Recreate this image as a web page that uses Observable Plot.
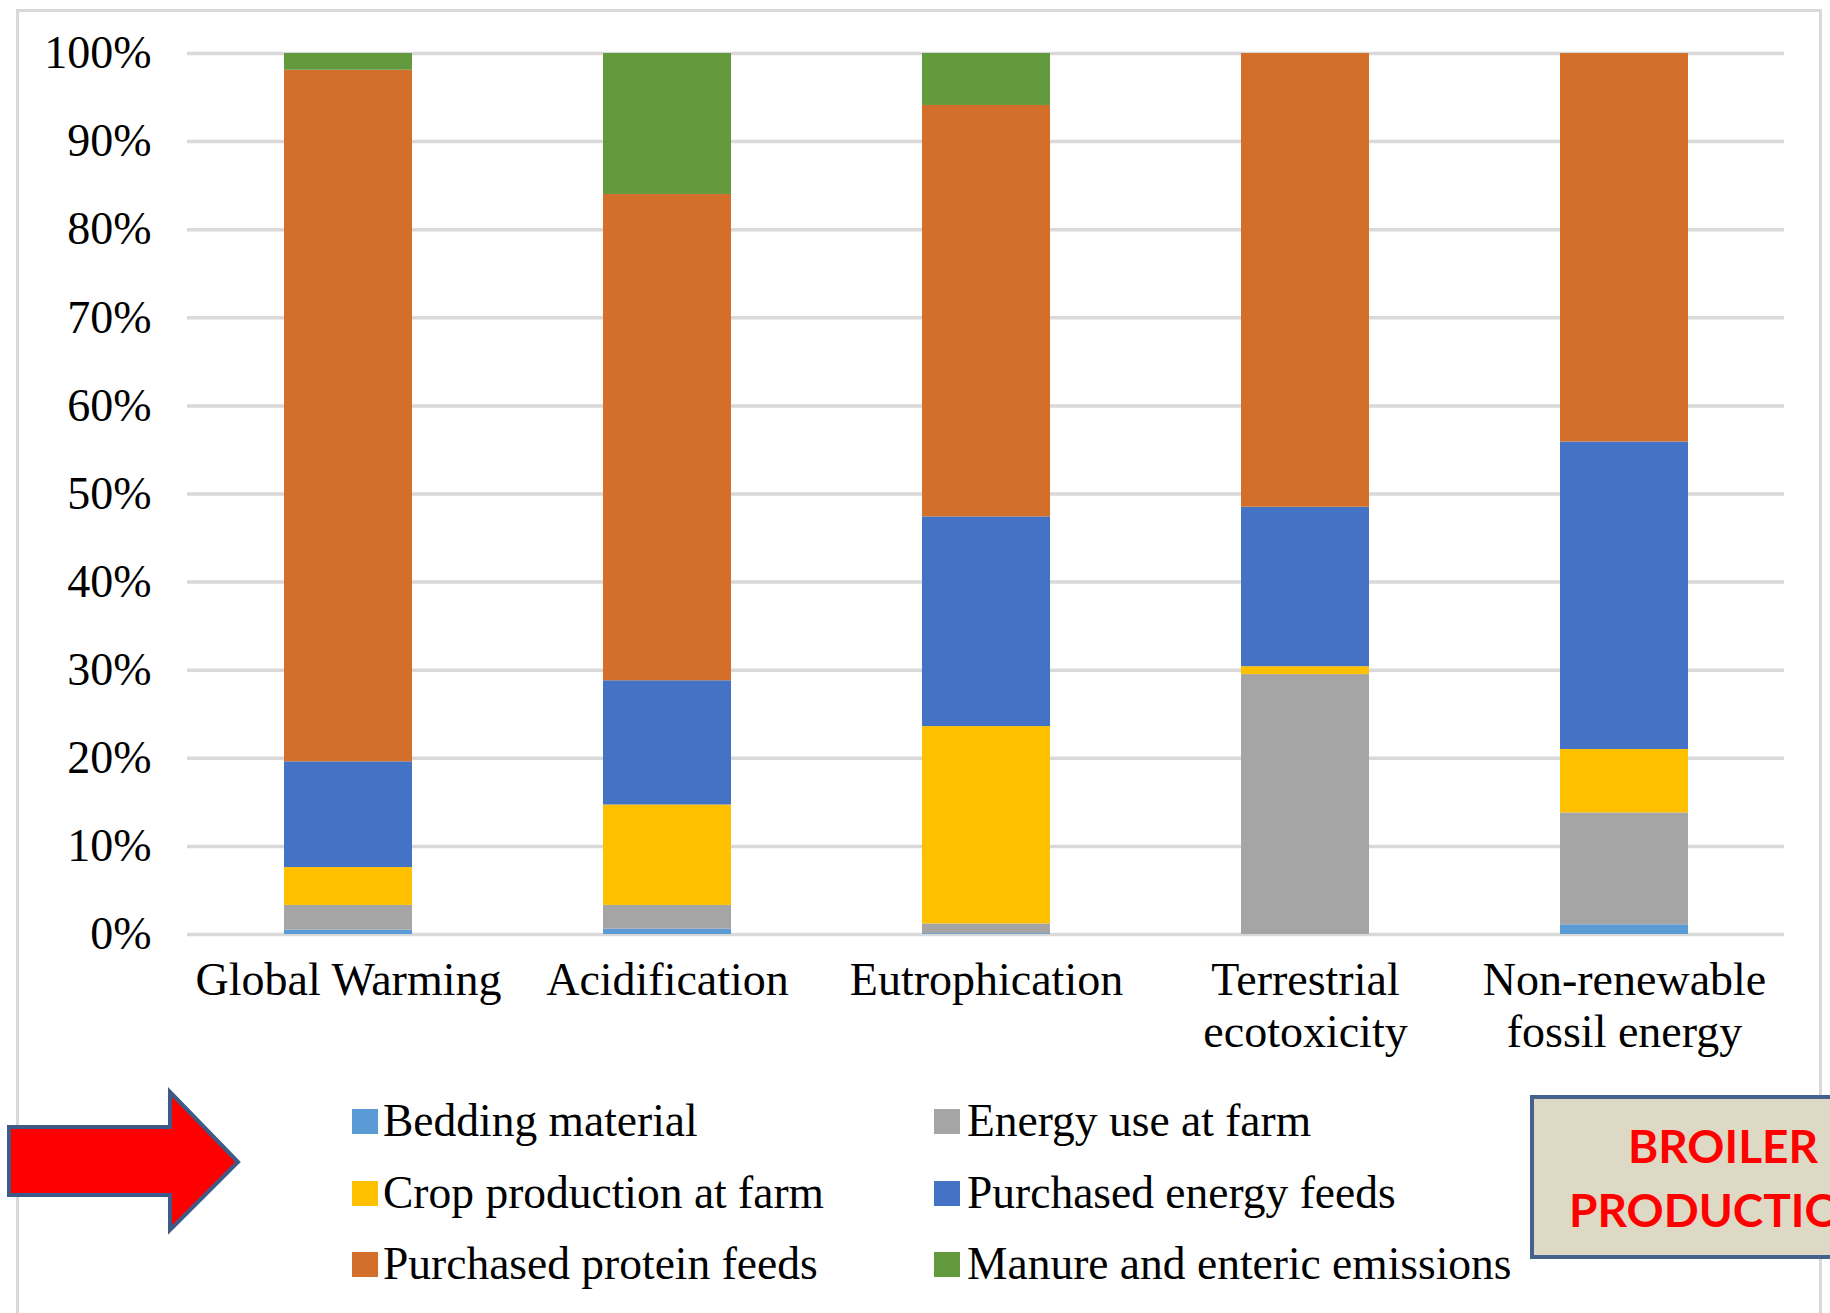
<!DOCTYPE html>
<html>
<head>
<meta charset="utf-8">
<script src="https://cdn.jsdelivr.net/npm/d3@7"></script>
<script src="https://cdn.jsdelivr.net/npm/@observablehq/plot@0.6"></script>
<style>
  html, body { margin: 0; padding: 0; background: #fff; }
  #page { position: relative; width: 1830px; height: 1313px; overflow: hidden; background: #fff; }
  #frame { position: absolute; left: 16px; top: 9px; width: 1806px; height: 1400px;
           border: 3px solid #d9d9d9; border-bottom: none; box-sizing: border-box; }
  #chart { position: absolute; left: 0; top: 0; }
  .leg { position: absolute; font-family: "Liberation Serif", "Times New Roman", serif;
         font-size: 45.5px; color: #000; white-space: nowrap; line-height: 1; }
  .sw { position: absolute; width: 26px; height: 25px; }
  #box { position: absolute; left: 1530px; top: 1095px; width: 400px; height: 164px;
         background: #ddd9c4; border: 4px solid #44628c; box-sizing: border-box; }
  .boxt { position: absolute; font-family: Lato, "Open Sans", sans-serif; font-weight: 700;
          font-size: 46px; color: #ff0000; white-space: nowrap; line-height: 1; }
</style>
</head>
<body>
<div id="page">
  <div id="frame"></div>
  <div id="chart"></div>
  <div id="legend"></div>
  <svg id="arrow" width="260" height="160" style="position:absolute;left:0;top:1082px;">
    <polygon points="9,45 170,45 170,10 238,80 170,148 170,113 9,113"
             fill="#ff0000" stroke="#3d5b86" stroke-width="4" stroke-linejoin="miter"/>
  </svg>
  <div id="box"></div>
  <div class="boxt" style="left:1723px; top:1123px; transform:translateX(-50%);">BROILER</div>
  <div class="boxt" style="left:1723px; top:1187px; transform:translateX(-50%);">PRODUCTION</div>
</div>
<script>
const categories = ["Global Warming", "Acidification", "Eutrophication", "Terrestrial ecotoxicity", "Non-renewable fossil energy"];
const tickLabels = ["Global Warming", "Acidification", "Eutrophication", "Terrestrial\necotoxicity", "Non-renewable\nfossil energy"];
const series = ["Bedding material", "Energy use at farm", "Crop production at farm", "Purchased energy feeds", "Purchased protein feeds", "Manure and enteric emissions"];
const colors = ["#5b9bd5", "#a5a5a5", "#ffc000", "#4472c4", "#d36f2b", "#649a3e"];
const beddingMaterial = [0.5, 0.6, 0.1, 0.0, 1.1];
const energyUseAtFarm = [2.8, 2.7, 1.1, 29.5, 12.7];
const cropProduction = [4.3, 11.4, 22.4, 0.9, 7.2];
const purchasedEnergyFeeds = [12.0, 14.1, 23.8, 18.1, 34.9];
const purchasedProteinFeeds = [78.5, 55.2, 46.7, 51.5, 44.1];
const manureEmissions = [1.9, 16.0, 5.9, 0.0, 0.0];
const yTicks = [0, 10, 20, 30, 40, 50, 60, 70, 80, 90, 100];

const seriesValues = [beddingMaterial, energyUseAtFarm, cropProduction, purchasedEnergyFeeds, purchasedProteinFeeds, manureEmissions];
const data = [];
categories.forEach((c, ci) => {
  series.forEach((s, si) => {
    data.push({category: c, series: s, value: seriesValues[si][ci]});
  });
});
const labelOf = new Map(categories.map((c, i) => [c, tickLabels[i]]));

const chart = Plot.plot({
  width: 1830,
  height: 1085,
  marginLeft: 187,
  marginRight: 46,
  marginTop: 53,
  marginBottom: 151,
  style: {fontFamily: "'Liberation Serif', 'Times New Roman', serif", fontSize: "46px", color: "#000", background: "transparent"},
  x: {domain: categories, paddingInner: 0.6, paddingOuter: 0.3, label: null},
  y: {domain: [0, 100], label: null},
  color: {domain: series, range: colors},
  marks: [
    Plot.gridY(yTicks, {stroke: "#d9d9d9", strokeOpacity: 1, strokeWidth: 3.5}),
    Plot.barY(data, {x: "category", y: "value", fill: "series", order: null}),
    Plot.axisY(yTicks, {tickSize: 0, tickPadding: 36, tickFormat: d => d + "%", fontSize: 46, label: null}),
    Plot.axisX({tickSize: 0, tickPadding: 23, tickFormat: d => labelOf.get(d), fontSize: 46, lineHeight: 1.14, label: null})
  ]
});
document.getElementById("chart").appendChild(chart);

// Legend (HTML, below the SVG)
const legend = document.getElementById("legend");
series.forEach((s, i) => {
  const row = Math.floor(i / 2), col = i % 2;
  const baseline = 1135 + row * 71.5;
  const swX = col === 0 ? 352 : 934;
  const txX = col === 0 ? 383 : 967;
  const sw = document.createElement("div");
  sw.className = "sw";
  sw.style.left = swX + "px";
  sw.style.top = (baseline - 26) + "px";
  sw.style.background = colors[i];
  legend.appendChild(sw);
  const t = document.createElement("div");
  t.className = "leg";
  t.style.left = txX + "px";
  t.style.top = (baseline - 37) + "px";
  t.textContent = s;
  legend.appendChild(t);
});
</script>
</body>
</html>
